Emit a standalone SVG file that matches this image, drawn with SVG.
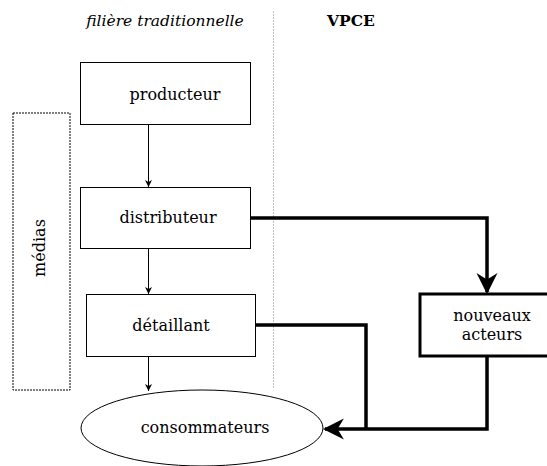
<svg xmlns="http://www.w3.org/2000/svg" width="547" height="466" viewBox="0 0 547 466">
<style>
text{font-family:"DejaVu Serif","Liberation Serif",serif;font-size:16px;fill:#000;text-anchor:middle}
.title{font-size:15.5px}
.box{fill:#fff;stroke:#000;stroke-width:1}
.thick{fill:none;stroke:#000;stroke-width:3.5}
.thin{fill:none;stroke:#000;stroke-width:1}
</style>
<defs>
<marker id="ah" viewBox="0 0 10 10" markerUnits="userSpaceOnUse" markerWidth="7" markerHeight="8" refX="10" refY="5" orient="auto">
<path d="M0,0 L10,5 L0,10 L3,5 z" fill="#000"/>
</marker>
<marker id="ahb" viewBox="0 0 10 10" markerUnits="userSpaceOnUse" markerWidth="21" markerHeight="23" refX="9" refY="5" orient="auto">
<path d="M0,0 L10,5 L0,10 L3,5 z" fill="#000"/>
</marker>
</defs>
<rect width="547" height="466" fill="#fff"/>
<line x1="273.5" y1="11" x2="273.5" y2="388" stroke="#c0c0c0" stroke-width="1" stroke-dasharray="2,1"/>
<text class="title" x="165" y="26" font-style="italic">filière traditionnelle</text>
<text class="title" x="351" y="26" font-weight="bold">VPCE</text>
<g id="medias">
<rect x="13" y="113" width="57" height="277" fill="none" stroke="#000" stroke-width="1" stroke-dasharray="2,1"/>
<text transform="translate(45,248) rotate(-90)">médias</text>
</g>
<g id="producteur"><rect class="box" x="80.5" y="62.5" width="170" height="62"/><text x="175" y="100">producteur</text></g>
<g id="distributeur"><rect class="box" x="80.5" y="187.5" width="170" height="61"/><text x="168" y="223">distributeur</text></g>
<g id="detaillant"><rect class="box" x="86.5" y="294.5" width="169" height="62"/><text x="171" y="331">détaillant</text></g>
<g id="nouveaux"><rect x="420" y="294" width="140" height="62" fill="#fff" stroke="#000" stroke-width="3"/><text x="492" y="321">nouveaux</text><text x="492" y="340">acteurs</text></g>
<g id="consommateurs"><ellipse cx="202" cy="428" rx="121" ry="38" fill="#fff" stroke="#000" stroke-width="1"/><text x="205" y="433">consommateurs</text></g>
<g id="connectors">
<line class="thin" x1="148.5" y1="124" x2="148.5" y2="187" marker-end="url(#ah)"/>
<line class="thin" x1="148.5" y1="248" x2="148.5" y2="294" marker-end="url(#ah)"/>
<line class="thin" x1="148.5" y1="356" x2="148.5" y2="391" marker-end="url(#ah)"/>
<polyline class="thick" points="251,218 487,218 487,292" marker-end="url(#ahb)"/>
<polyline class="thick" points="256,325 366,325 366,429"/>
<polyline class="thick" points="487,357 487,429 325,429" marker-end="url(#ahb)"/>
</g>
</svg>
